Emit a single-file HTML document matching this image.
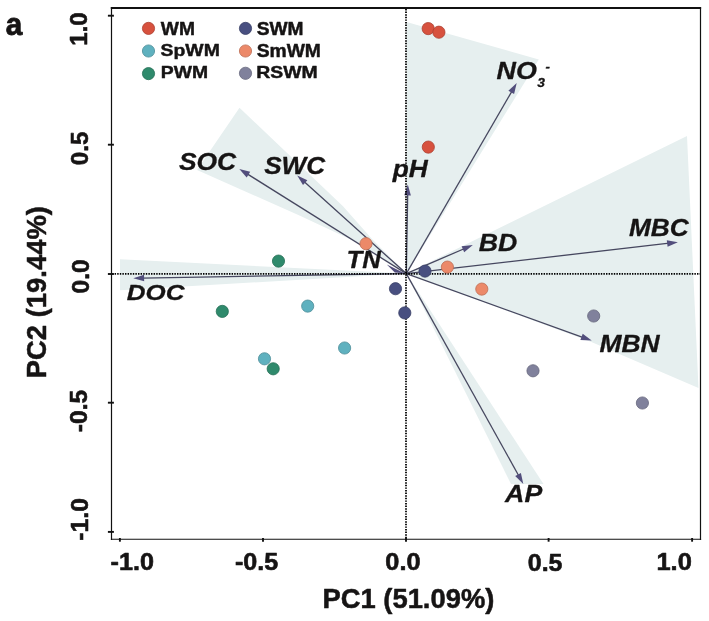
<!DOCTYPE html>
<html><head><meta charset="utf-8"><title>PCA biplot</title><style>
html,body{margin:0;padding:0;background:#fff;overflow:hidden}
svg{display:block;will-change:transform}
text{font-family:"Liberation Sans",Arial,Helvetica,sans-serif;font-weight:bold;fill:#161414;stroke:#161414;stroke-linejoin:round}
.v{font-style:italic}
</style></head><body>
<svg width="709" height="621" viewBox="0 0 709 621">
<rect width="709" height="621" fill="#fff"/>
<g fill="#e6efef">
<polygon points="406.5,273.6 406.5,22.0 538.8,59.4"/>
<polygon points="239.5,107.7 343.0,206.3 372.0,239.0 406.3,273.6 355.0,241.4 300.0,215.7 197.0,170.0"/>
<polygon points="406.3,273.6 120.0,259.2 120.0,290.2"/>
<polygon points="406.3,273.6 687.0,136.0 698.5,388.0 591.4,342.0"/>
<polygon points="406.3,273.6 511.0,484.0 543.5,484.0"/>
</g>
<g stroke="#46475f" stroke-width="1.3" fill="none">
<line x1="406.3" y1="273.6" x2="512.3" y2="90.6"/>
<line x1="406.3" y1="273.6" x2="407.7" y2="193.4"/>
<line x1="406.3" y1="273.6" x2="246.8" y2="173.6"/>
<line x1="406.3" y1="273.6" x2="303.7" y2="181.3"/>
<line x1="406.3" y1="273.6" x2="142.1" y2="278.1"/>
<line x1="406.3" y1="273.6" x2="464.7" y2="248.5"/>
<line x1="406.3" y1="273.6" x2="669.2" y2="243.2"/>
<line x1="406.3" y1="273.6" x2="583.4" y2="337.6"/>
<line x1="406.3" y1="273.6" x2="519.0" y2="476.2"/>
</g>
<g fill="#524e7c">
<polygon points="516.7,83.0 514.1,94.0 508.4,90.7"/>
<polygon points="407.8,184.6 410.9,195.5 404.3,195.3"/>
<polygon points="239.3,168.9 250.2,171.8 246.7,177.4"/>
<polygon points="297.2,175.4 307.4,180.2 303.0,185.1"/>
<polygon points="133.3,278.2 144.0,274.7 144.2,281.3"/>
<polygon points="472.8,245.0 464.2,252.3 461.6,246.2"/>
<polygon points="677.9,242.2 667.6,246.7 666.8,240.2"/>
<polygon points="591.7,340.6 580.4,340.0 582.7,333.8"/>
<polygon points="523.3,483.9 515.2,476.1 520.9,472.9"/>
<polygon points="386.8,264.6 394.8,272.6 404.5,273.2"/>
</g>
<g stroke="#000" stroke-width="1.8" stroke-dasharray="1.45 1.15" fill="none">
<line x1="112" y1="273.9" x2="700" y2="273.9"/>
<line x1="406" y1="9" x2="406" y2="539"/>
</g>
<circle cx="428.2" cy="28.6" r="6.10" fill="#d7513e" stroke="#ac4031" stroke-width="0.8"/>
<circle cx="438.9" cy="32.2" r="6.10" fill="#d7513e" stroke="#ac4031" stroke-width="0.8"/>
<circle cx="428.3" cy="147.1" r="6.10" fill="#d7513e" stroke="#ac4031" stroke-width="0.8"/>
<circle cx="425.0" cy="271.1" r="6.10" fill="#484f80" stroke="#393f66" stroke-width="0.8"/>
<circle cx="395.5" cy="288.7" r="6.10" fill="#484f80" stroke="#393f66" stroke-width="0.8"/>
<circle cx="404.8" cy="312.9" r="6.10" fill="#484f80" stroke="#393f66" stroke-width="0.8"/>
<circle cx="366.0" cy="243.7" r="6.10" fill="#ec8969" stroke="#bc6d54" stroke-width="0.8"/>
<circle cx="447.4" cy="267.1" r="6.10" fill="#ec8969" stroke="#bc6d54" stroke-width="0.8"/>
<circle cx="481.8" cy="289.1" r="6.10" fill="#ec8969" stroke="#bc6d54" stroke-width="0.8"/>
<circle cx="593.7" cy="316.0" r="6.10" fill="#80819c" stroke="#66677c" stroke-width="0.8"/>
<circle cx="533.0" cy="370.8" r="6.10" fill="#80819c" stroke="#66677c" stroke-width="0.8"/>
<circle cx="642.4" cy="403.0" r="6.10" fill="#80819c" stroke="#66677c" stroke-width="0.8"/>
<circle cx="307.7" cy="306.1" r="6.10" fill="#5fb1bf" stroke="#4c8d98" stroke-width="0.8"/>
<circle cx="344.6" cy="348.0" r="6.10" fill="#5fb1bf" stroke="#4c8d98" stroke-width="0.8"/>
<circle cx="264.5" cy="358.8" r="6.10" fill="#5fb1bf" stroke="#4c8d98" stroke-width="0.8"/>
<circle cx="278.5" cy="261.1" r="6.10" fill="#2f8a6c" stroke="#256e56" stroke-width="0.8"/>
<circle cx="222.3" cy="311.4" r="6.10" fill="#2f8a6c" stroke="#256e56" stroke-width="0.8"/>
<circle cx="273.2" cy="368.8" r="6.10" fill="#2f8a6c" stroke="#256e56" stroke-width="0.8"/>
<g stroke="#111" fill="none">
<line x1="110.8" y1="7.95" x2="701.1" y2="7.95" stroke-width="2"/>
<line x1="111.5" y1="7" x2="111.5" y2="539.9" stroke-width="1.2"/>
<line x1="700.5" y1="7" x2="700.5" y2="539.9" stroke-width="1.2"/>
<line x1="110.9" y1="539.3" x2="701.1" y2="539.3" stroke-width="1.1"/>
<line x1="107.9" y1="15.7" x2="113.9" y2="15.7" stroke-width="1.9"/>
<line x1="107.9" y1="144.7" x2="113.9" y2="144.7" stroke-width="1.9"/>
<line x1="107.9" y1="274.0" x2="113.9" y2="274.0" stroke-width="1.9"/>
<line x1="107.9" y1="402.7" x2="113.9" y2="402.7" stroke-width="1.9"/>
<line x1="107.9" y1="531.9" x2="113.9" y2="531.9" stroke-width="1.9"/>
<line x1="119.9" y1="538" x2="119.9" y2="541.7" stroke-width="1.9"/>
<line x1="263.0" y1="538" x2="263.0" y2="541.7" stroke-width="1.9"/>
<line x1="406.0" y1="538" x2="406.0" y2="541.7" stroke-width="1.9"/>
<line x1="548.6" y1="538" x2="548.6" y2="541.7" stroke-width="1.9"/>
<line x1="692.1" y1="538" x2="692.1" y2="541.7" stroke-width="1.9"/>
</g>
<circle cx="148.5" cy="28.4" r="6.1" fill="#d7513e" stroke="#ac4031" stroke-width="0.8"/>
<circle cx="148.5" cy="51.0" r="6.1" fill="#5fb1bf" stroke="#4c8d98" stroke-width="0.8"/>
<circle cx="148.5" cy="73.6" r="6.1" fill="#2f8a6c" stroke="#256e56" stroke-width="0.8"/>
<circle cx="245.5" cy="28.4" r="6.1" fill="#484f80" stroke="#393f66" stroke-width="0.8"/>
<circle cx="245.5" cy="51.0" r="6.1" fill="#ec8969" stroke="#bc6d54" stroke-width="0.8"/>
<circle cx="245.5" cy="73.3" r="6.1" fill="#80819c" stroke="#66677c" stroke-width="0.8"/>
<text transform="translate(5.86,34.83) scale(0.9257,1)" font-size="32.00" stroke-width="0.90">a</text>
<text transform="translate(160.82,34.67) scale(1.0910,1)" font-size="17.61" stroke-width="0.45">WM</text>
<text transform="translate(160.54,56.46) scale(1.1286,1)" font-size="17.20" stroke-width="0.45">SpWM</text>
<text transform="translate(160.87,78.38) scale(1.1161,1)" font-size="17.32" stroke-width="0.45">PWM</text>
<text transform="translate(256.65,34.50) scale(1.0932,1)" font-size="17.54" stroke-width="0.45">SWM</text>
<text transform="translate(256.65,56.50) scale(1.0751,1)" font-size="17.96" stroke-width="0.45">SmWM</text>
<text transform="translate(256.17,78.20) scale(1.1257,1)" font-size="17.25" stroke-width="0.45">RSWM</text>
<text transform="translate(322.53,607.70) scale(1.0169,1)" font-size="26.91" stroke-width="0.50">PC1 (51.09%)</text>
<text class="v" transform="translate(178.89,169.61) scale(1.1028,1)" font-size="23.94" stroke-width="0.30">SOC</text>
<text class="v" transform="translate(264.19,173.61) scale(1.0789,1)" font-size="24.23" stroke-width="0.30">SWC</text>
<text class="v" transform="translate(392.78,176.56) scale(1.1051,1)" font-size="23.78" stroke-width="0.30">pH</text>
<text class="v" transform="translate(346.45,268.45) scale(1.0684,1)" font-size="24.06" stroke-width="0.30">TN</text>
<text class="v" transform="translate(478.82,251.15) scale(1.1240,1)" font-size="23.77" stroke-width="0.30">BD</text>
<text class="v" transform="translate(628.93,236.41) scale(1.1077,1)" font-size="23.66" stroke-width="0.30">MBC</text>
<text class="v" transform="translate(126.83,300.32) scale(1.1294,1)" font-size="22.96" stroke-width="0.30">DOC</text>
<text class="v" transform="translate(599.42,351.65) scale(1.0987,1)" font-size="24.06" stroke-width="0.30">MBN</text>
<text class="v" transform="translate(505.12,501.65) scale(1.1171,1)" font-size="23.91" stroke-width="0.30">AP</text>
<text class="v" transform="translate(496.51,78.81) scale(1.1083,1)" font-size="24.23" stroke-width="0.30">NO</text>
<text class="v" transform="translate(537.21,86.52) scale(1.0866,1)" font-size="12.68" stroke-width="0.30">3</text>
<text class="v" transform="translate(545.55,70.15) scale(1.3333,1)" font-size="10.00" stroke-width="0.30">-</text>
<text transform="translate(110.59,570.26) scale(1.0707,1)" font-size="23.52" stroke-width="0.60">-1.0</text>
<text transform="translate(234.90,570.26) scale(1.0680,1)" font-size="23.52" stroke-width="0.60">-0.5</text>
<text transform="translate(385.29,570.26) scale(1.0775,1)" font-size="23.52" stroke-width="0.60">0.0</text>
<text transform="translate(527.80,571.36) scale(1.0533,1)" font-size="23.66" stroke-width="0.60">0.5</text>
<text transform="translate(656.47,570.26) scale(1.0810,1)" font-size="23.52" stroke-width="0.60">1.0</text>
<text transform="translate(87.27,45.64) rotate(-90) scale(1.0370,1)" font-size="23.10" stroke-width="0.60">1.0</text>
<text transform="translate(88.37,165.17) rotate(-90) scale(1.0495,1)" font-size="23.10" stroke-width="0.60">0.5</text>
<text transform="translate(88.57,293.38) rotate(-90) scale(1.0448,1)" font-size="23.38" stroke-width="0.60">0.0</text>
<text transform="translate(87.37,432.19) rotate(-90) scale(1.0602,1)" font-size="23.24" stroke-width="0.60">-0.5</text>
<text transform="translate(87.66,540.79) rotate(-90) scale(1.0304,1)" font-size="24.08" stroke-width="0.60">-1.0</text>
<text transform="translate(45.95,378.27) rotate(-90) scale(1.0113,1)" font-size="27.13" stroke-width="0.50">PC2 (19.44%)</text>
</svg>
</body></html>
